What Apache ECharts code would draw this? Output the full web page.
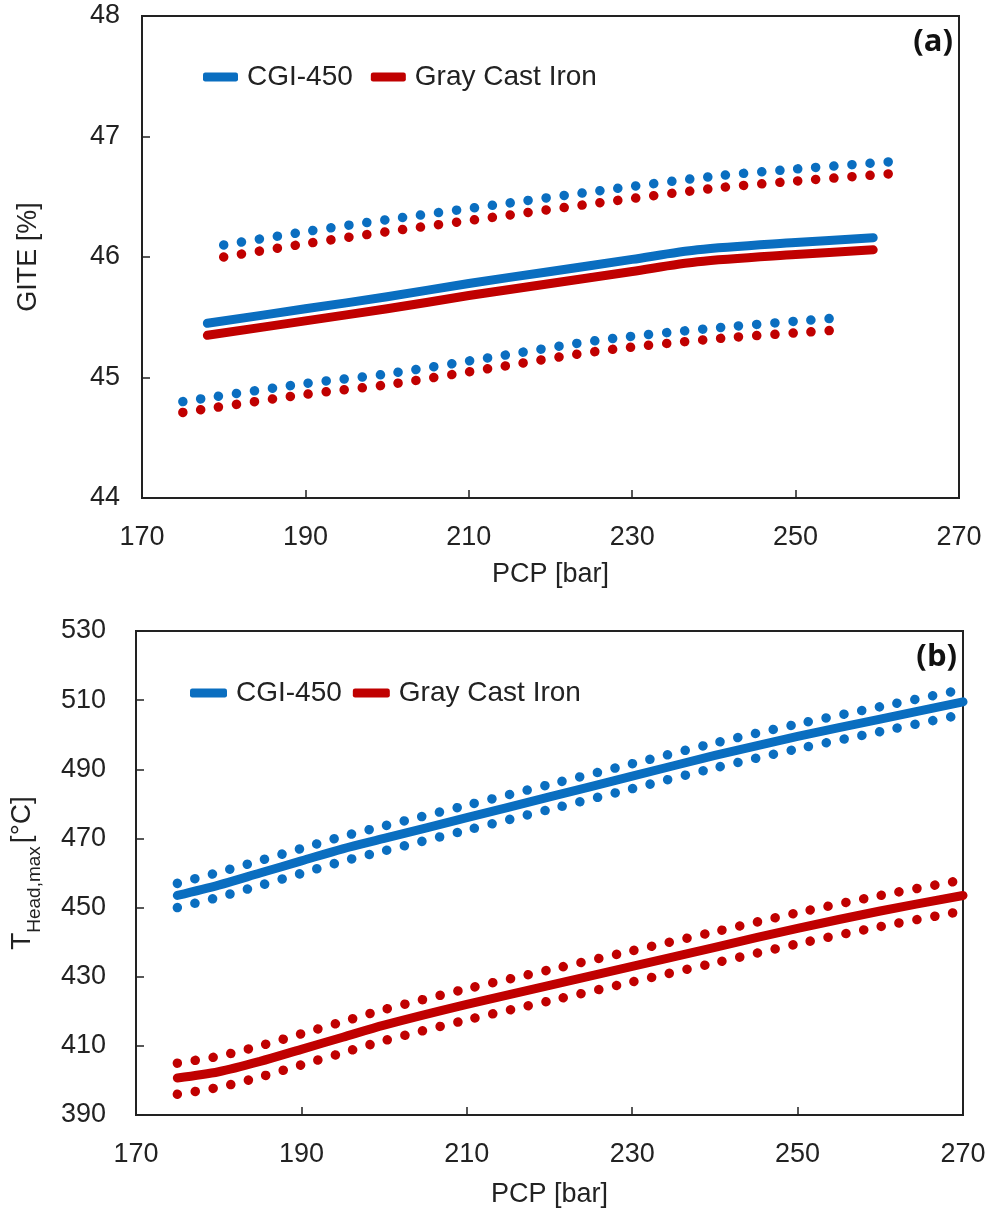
<!DOCTYPE html>
<html>
<head>
<meta charset="utf-8">
<script src="https://cdn.jsdelivr.net/npm/echarts@6/dist/echarts.min.js"></script>
<style>html,body{margin:0;padding:0;background:#fff}#c{width:989px;height:1212px}</style>
</head>
<body>
<div id="c"></div>
<script>
// ---- Panel (a): GITE vs PCP ----
const pcpA_solid = [178, 190, 200, 210, 220, 230, 238, 250, 259.5];
const giteCGI = [45.45, 45.57, 45.67, 45.78, 45.88, 45.98, 46.06, 46.12, 46.16];
const giteGray = [45.35, 45.47, 45.57, 45.68, 45.78, 45.88, 45.96, 46.02, 46.06];

const pcpA_upper = [180, 190, 200, 213, 226, 240, 250, 261.5];
const giteCGI_upper = [46.10, 46.21, 46.31, 46.43, 46.55, 46.67, 46.73, 46.79];
const giteGray_upper = [46.00, 46.11, 46.21, 46.33, 46.45, 46.57, 46.63, 46.69];

const pcpA_lower = [175, 190, 200, 213, 226, 240, 254.3];
const giteCGI_lower = [44.80, 44.95, 45.03, 45.17, 45.31, 45.41, 45.49];
const giteGray_lower = [44.71, 44.86, 44.94, 45.08, 45.22, 45.32, 45.39];

// ---- Panel (b): T_Head,max vs PCP ----
const pcpB = [175, 180, 185, 190, 195, 200, 210, 220, 230, 240, 250, 260, 270];
const tCGI = [453.5, 456.5, 460, 463.5, 467, 470, 476, 482, 488, 494, 499.5, 504.5, 509.5];
const tCGI_upper = [457, 460.2, 463.6, 467.1, 470.6, 473.6, 479.6, 485.6, 491.6, 497.6, 503.1, 508.1, 513.1];
const tCGI_lower = [450, 453, 456.4, 459.9, 463.4, 466.4, 472.4, 478.4, 484.4, 490.4, 495.9, 500.9, 505.9];
const tGray = [400.7, 402.5, 405.5, 409, 412.5, 416, 422, 427.5, 433, 438.5, 444, 449, 453.5];
const tGray_upper = [405, 407, 410, 413.5, 417, 420.5, 426.5, 432, 437.5, 443, 448.5, 453.5, 458];
const tGray_lower = [396, 398, 401, 404.5, 408, 411.5, 417.5, 423, 428.5, 434, 439.5, 444.5, 449];

const seriesNames = ['CGI-450', 'Gray Cast Iron'];
const xTicks = [170, 190, 210, 230, 250, 270];

const BLUE = '#0a6ec0';
const RED = '#c00000';
const FONT = '"Liberation Sans", Arial, Helvetica, sans-serif';
const AX = '#222';

function pairs(xs, ys) { return xs.map((x, i) => [x, ys[i]]); }

function solid(name, color, idx, xs, ys) {
  return { name, type: 'line', xAxisIndex: idx, yAxisIndex: idx, data: pairs(xs, ys),
    smooth: 0.3, symbol: 'none', color,
    lineStyle: { color, width: 9, cap: 'round', join: 'round' }, z: 3 };
}
function dotted(name, color, idx, xs, ys) {
  return { name, type: 'line', xAxisIndex: idx, yAxisIndex: idx, data: pairs(xs, ys),
    smooth: 0.3, symbol: 'none', color,
    lineStyle: { color, width: 9.5, type: [0.1, 18], cap: 'round' }, z: 2 };
}

function xAxis(idx, margin, nameGap) {
  return { type: 'value', gridIndex: idx, min: 170, max: 270, interval: 20,
    name: 'PCP [bar]', nameLocation: 'middle', nameGap,
    nameTextStyle: { fontFamily: FONT, fontSize: 27, color: AX },
    axisLine: { show: true, lineStyle: { color: AX, width: 2 } },
    axisTick: { show: true, inside: true, length: 8, lineStyle: { color: AX, width: 1.5 } },
    axisLabel: { fontFamily: FONT, fontSize: 27, color: AX, margin },
    splitLine: { show: false } };
}

const legendBase = {
  icon: 'roundRect', itemHeight: 9,
  textStyle: { fontFamily: FONT, fontSize: 28, color: AX, padding: [0, 0, 0, 4] },
  data: seriesNames, selectedMode: false
};

const option = {
  animation: false,
  backgroundColor: '#fff',
  grid: [
    { left: 142, top: 16, width: 817, height: 482, show: true, borderColor: AX, borderWidth: 2 },
    { left: 136, top: 631, width: 827, height: 484, show: true, borderColor: AX, borderWidth: 2 }
  ],
  xAxis: [ xAxis(0, 26, 63), xAxis(1, 26, 66) ],
  yAxis: [
    { type: 'value', gridIndex: 0, min: 44, max: 48, interval: 1,
      name: 'GITE [%]', nameLocation: 'middle', nameGap: 100, nameRotate: 90,
      nameTextStyle: { fontFamily: FONT, fontSize: 27, color: AX },
      axisLine: { show: true, lineStyle: { color: AX, width: 2 } },
      axisTick: { show: true, inside: true, length: 8, lineStyle: { color: AX, width: 1.5 } },
      axisLabel: { fontFamily: FONT, fontSize: 27, color: AX, margin: 22 },
      splitLine: { show: false } },
    { type: 'value', gridIndex: 1, min: 390, max: 530, interval: 20,
      name: '{t|T}{s|Head,max}{t|[°C]}', nameLocation: 'middle', nameGap: 92, nameRotate: 90,
      nameTextStyle: { fontFamily: FONT, fontSize: 27, color: AX,
        rich: {
          t: { fontFamily: FONT, fontSize: 28, color: AX, lineHeight: 44 },
          s: { fontFamily: FONT, fontSize: 19, color: AX, lineHeight: 24, verticalAlign: 'bottom', padding: [0, 3, 0, 0] }
        } },
      axisLine: { show: true, lineStyle: { color: AX, width: 2 } },
      axisTick: { show: true, inside: true, length: 8, lineStyle: { color: AX, width: 1.5 } },
      axisLabel: { fontFamily: FONT, fontSize: 27, color: AX, margin: 30 },
      splitLine: { show: false } }
  ],
  legend: [
    Object.assign({}, legendBase, { left: 198, top: 58, itemWidth: 35, itemGap: 18 }),
    Object.assign({}, legendBase, { left: 185, top: 674, itemWidth: 37, itemGap: 11 })
  ],
  graphic: [
    { type: 'text', right: 36, top: 27, style: { text: '(a)', font: 'bold 31px "Open Sans", sans-serif', fill: '#111' } },
    { type: 'text', right: 32, top: 642, style: { text: '(b)', font: 'bold 31px "Open Sans", sans-serif', fill: '#111' } }
  ],
  series: [
    solid(seriesNames[0], BLUE, 0, pcpA_solid, giteCGI),
    solid(seriesNames[1], RED, 0, pcpA_solid, giteGray),
    dotted('CGI-450 upper', BLUE, 0, pcpA_upper, giteCGI_upper),
    dotted('Gray upper', RED, 0, pcpA_upper, giteGray_upper),
    dotted('CGI-450 lower', BLUE, 0, pcpA_lower, giteCGI_lower),
    dotted('Gray lower', RED, 0, pcpA_lower, giteGray_lower),
    solid(seriesNames[0], BLUE, 1, pcpB, tCGI),
    solid(seriesNames[1], RED, 1, pcpB, tGray),
    dotted('CGI-450 upper b', BLUE, 1, pcpB, tCGI_upper),
    dotted('CGI-450 lower b', BLUE, 1, pcpB, tCGI_lower),
    dotted('Gray upper b', RED, 1, pcpB, tGray_upper),
    dotted('Gray lower b', RED, 1, pcpB, tGray_lower)
  ]
};

const chart = echarts.init(document.getElementById('c'), null, { renderer: 'canvas' });
chart.setOption(option);
</script>
</body>
</html>
